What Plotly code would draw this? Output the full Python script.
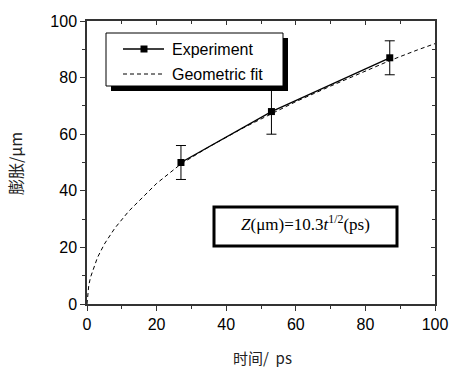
import plotly.graph_objects as go

# Experiment data
exp_t = [27, 53, 87]
exp_z = [50, 68, 87]
exp_err_plus = [6, 9, 6]
exp_err_minus = [6, 8, 6]

# Geometric fit curve
fit_t = [0, 0.5, 1, 2, 3, 5, 8, 12, 16, 20, 27, 35, 45, 53, 60, 70, 80, 87, 95, 100]
fit_z = [0, 6.5, 9.4, 13.3, 16.4, 21.2, 26.8, 32.8, 37.8, 42.6, 49.5, 55.5, 62.3, 67.3, 71.5, 77.0, 82.2, 86.0, 89.8, 92.0]

x_ticks = [0, 20, 40, 60, 80, 100]
y_ticks = [0, 20, 40, 60, 80, 100]

W, H = 449, 367
L, R, T, B = 87, 14, 21, 63
pw, ph = W - L - R, H - T - B

def px(x):
    return (x - L) / pw

def py(y):
    return 1 - (y - T) / ph

fig = go.Figure()
fig.add_trace(go.Scatter(x=fit_t, y=fit_z, mode="lines",
                         line=dict(color="black", width=1, dash="4px,3px"),
                         showlegend=False, hoverinfo="skip"))
fig.add_trace(go.Scatter(x=exp_t, y=exp_z, mode="lines+markers",
                         line=dict(color="black", width=1.3),
                         marker=dict(symbol="square", size=7, color="black"),
                         error_y=dict(type="data", array=exp_err_plus, arrayminus=exp_err_minus,
                                      color="black", thickness=1, width=5),
                         showlegend=False))

axis_common = dict(showline=True, linecolor="#333", linewidth=1.5, showgrid=False, zeroline=False,
                   automargin=False,
                   tickfont=dict(family="Arial, Liberation Sans", size=16, color="black"),
                   ticklen=5, tickwidth=1.2, tickcolor="#333")

fig.update_layout(
    width=W, height=H, margin=dict(l=L, r=R, t=T, b=B, autoexpand=False),
    paper_bgcolor="white", plot_bgcolor="white",
    xaxis=dict(range=[0, 100], tickvals=x_ticks, ticks="outside",
               minor=dict(dtick=10, ticks="outside", ticklen=3, tickcolor="#333"), **axis_common),
    yaxis=dict(range=[0, 100], tickvals=y_ticks, ticks="outside",
               minor=dict(dtick=10, ticks="outside", ticklen=3, tickcolor="#333"), **axis_common),
    xaxis2=dict(range=[0, 100], overlaying="x", side="top", tickvals=x_ticks, ticks="inside",
                showticklabels=False, showline=True, linecolor="#333", linewidth=1.5, automargin=False,
                showgrid=False, zeroline=False, ticklen=4, tickcolor="#333",
                minor=dict(dtick=10, ticks="inside", ticklen=3, tickcolor="#333")),
    yaxis2=dict(range=[0, 100], overlaying="y", side="right", tickvals=y_ticks, ticks="inside",
                showticklabels=False, showline=True, linecolor="#333", linewidth=1.5, automargin=False,
                showgrid=False, zeroline=False, ticklen=4, tickcolor="#333",
                minor=dict(dtick=10, ticks="inside", ticklen=3, tickcolor="#333")),
)
# dummy invisible trace to activate secondary axes
fig.add_trace(go.Scatter(x=[None], y=[None], xaxis="x2", yaxis="y2", showlegend=False, hoverinfo="skip"))

shapes = []
# legend shadow and box
shapes.append(dict(type="rect", xref="paper", yref="paper", x0=px(111), x1=px(288), y0=py(38), y1=py(91),
                   fillcolor="black", line=dict(width=0)))
shapes.append(dict(type="rect", xref="paper", yref="paper", x0=px(106), x1=px(283), y0=py(33), y1=py(86),
                   fillcolor="white", line=dict(color="black", width=1)))
# legend samples
shapes.append(dict(type="line", xref="paper", yref="paper", x0=px(123), x1=px(164), y0=py(49), y1=py(49),
                   line=dict(color="black", width=1.3)))
shapes.append(dict(type="rect", xref="paper", yref="paper", x0=px(140.5), x1=px(147.5), y0=py(45.5), y1=py(52.5),
                   fillcolor="black", line=dict(width=0)))
shapes.append(dict(type="line", xref="paper", yref="paper", x0=px(123), x1=px(164), y0=py(74), y1=py(74),
                   line=dict(color="black", width=1, dash="4px,3px")))
# equation box
shapes.append(dict(type="rect", xref="paper", yref="paper", x0=px(214), x1=px(397), y0=py(207), y1=py(246),
                   fillcolor="white", line=dict(color="black", width=3)))
fig.update_layout(shapes=shapes)

ann = []
ann.append(dict(xref="paper", yref="paper", x=px(170), y=py(49), xanchor="left", yanchor="middle",
                text="Experiment", showarrow=False, font=dict(family="Arial, Liberation Sans", size=16, color="black")))
ann.append(dict(xref="paper", yref="paper", x=px(170), y=py(74), xanchor="left", yanchor="middle",
                text="Geometric fit", showarrow=False, font=dict(family="Arial, Liberation Sans", size=16, color="black")))
ann.append(dict(xref="paper", yref="paper", x=px(305), y=py(223), xanchor="center", yanchor="middle",
                text="<i>Z</i>(μm)=10.3<i>t</i><sup>1/2</sup>(ps)", showarrow=False,
                font=dict(family="Times New Roman, Liberation Serif", size=17, color="black")))
ann.append(dict(xref="paper", yref="paper", x=px(262), y=py(357), xanchor="center", yanchor="middle",
                text="时间/  ps", showarrow=False,
                font=dict(family="Noto Sans CJK SC", size=15, color="#222")))
ann.append(dict(xref="paper", yref="paper", x=px(15), y=py(164), xanchor="center", yanchor="middle",
                text="膨胀/μm", textangle=-90, showarrow=False,
                font=dict(family="Noto Sans CJK SC", size=16, color="#222")))
fig.update_layout(annotations=ann)

fig.write_html("out.html")
